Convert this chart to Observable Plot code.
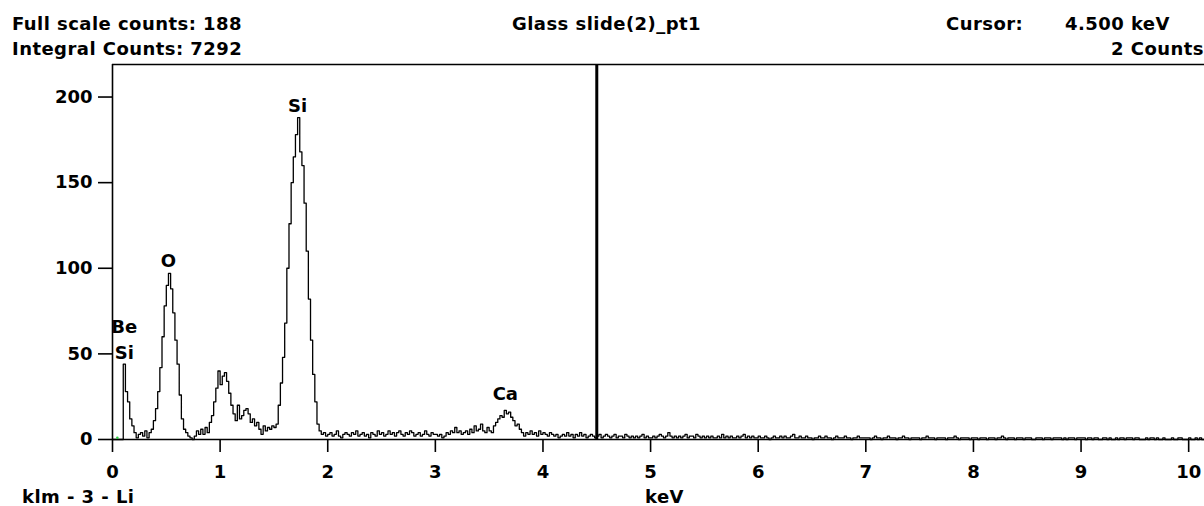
<!DOCTYPE html>
<html>
<head>
<meta charset="utf-8">
<script src="https://cdn.jsdelivr.net/npm/d3@7"></script>
<script src="https://cdn.jsdelivr.net/npm/@observablehq/plot@0.6"></script>
<style>
  html, body { margin: 0; padding: 0; background: #fff; overflow: hidden; width: 1204px; height: 506px; }
  #wrap { position: relative; width: 1204px; height: 506px; overflow: hidden; }
  .t { position: absolute; font-family: "DejaVu Sans", sans-serif; font-weight: bold; font-size: 18px; line-height: 18px; letter-spacing: 0.45px; color: #000; white-space: nowrap; }
  #chart { position: absolute; left: 0; top: 0; width: 1220px; }
  #chart svg { max-width: none !important; }
</style>
</head>
<body>
<div id="wrap">
  <div id="chart"></div>
  <div class="t" id="fullScale" style="left:12px; top:15px;"></div>
  <div class="t" id="integral" style="left:12px; top:40px;"></div>
  <div class="t" id="title" style="left:512px; top:15px;"></div>
  <div class="t" id="cursorLbl" style="left:946px; top:15px;"></div>
  <div class="t" id="cursorVal" style="left:1065px; top:15px;"></div>
  <div class="t" id="cursorCounts" style="right:0px; top:40px;"></div>
  <div class="t" id="detector" style="left:22px; top:488px;"></div>
  <div class="t" id="xUnit" style="left:645px; top:488px;"></div>
</div>
<script>
// ---- Header / footer text ----
const fullScaleCounts = 188;
const integralCounts = 7292;
const titleText = "Glass slide(2)_pt1";
const cursorKeV = 4.5;
const cursorCounts = 2;
const detectorText = "klm - 3 - Li";
const xUnitText = "keV";

// ---- Axes ----
const xTicks = [0, 1, 2, 3, 4, 5, 6, 7, 8, 9, 10];
const yTicks = [0, 50, 100, 150, 200];
const xMax = 10.24;   // keV, full spectrum width
const yMax = 219;     // counts, top of frame
const channelWidth = 0.02; // keV per channel

// ---- Spectrum counts, one value per 0.02 keV channel ----
const counts0to1 = [0,0,0,0,0,44,28,22,12,8, 4,1,3,4,2,5,1,4,6,11, 18,28,42,60,78,90,97,88,74,58, 44,26,12,6,4,2,1,0,2,5, 3,6,3,7,4,10,14,22,30,40];
const counts1to2 = [32,37,39,34,27,20,15,11,20,12, 14,17,18,15,10,12,8,10,6,3, 8,5,7,6,8,7,9,20,33,48, 68,100,126,150,165,178,188,168,160,138, 110,82,58,38,22,9,5,3,4,2];
const counts2to3 = [3,4,2,3,5,2,1,3,4,3, 2,4,3,5,2,3,4,2,3,1, 4,3,2,5,3,4,2,3,5,3, 4,2,4,5,3,2,4,3,5,4, 2,3,4,2,3,5,3,2,4,3];
const counts3to4 = [3,2,3,1,2,4,3,5,4,7, 4,5,3,4,5,3,6,4,8,5, 6,9,5,4,7,5,4,8,10,12, 14,13,17,15,16,13,11,8,9,6, 4,2,4,3,5,3,4,2,5,3];
const counts4to5 = [4,3,2,4,3,2,3,1,2,3, 2,4,2,3,1,3,2,4,2,3, 1,2,3,2,1,2,3,1,2,3, 2,1,2,3,1,2,2,1,3,2, 1,2,1,2,1,2,3,1,2,1];
const counts5to6 = [1,2,1,2,3,2,1,2,4,2, 1,2,1,2,1,2,3,1,2,2, 1,3,2,1,2,1,2,1,2,1, 1,2,1,3,1,2,1,2,1,1, 2,1,2,3,1,2,1,2,1,1];
const counts6to7 = [2,1,1,2,1,0,1,2,1,1, 2,1,2,1,1,2,3,1,1,2, 1,1,2,1,1,0,1,1,2,1, 1,2,1,1,0,1,2,1,1,1, 2,1,1,0,1,1,2,1,1,1];
const counts7to8 = [1,1,0,1,2,1,1,0,1,1, 2,1,1,1,0,1,1,2,1,1, 0,1,1,1,1,0,1,1,2,1, 1,1,0,1,1,1,1,0,1,1, 1,2,1,0,1,1,1,1,0,1];
const counts8to9 = [1,1,0,1,1,1,0,1,1,1, 0,1,1,2,1,0,1,1,1,0, 1,1,1,0,1,1,1,0,0,1, 1,1,0,1,1,1,0,1,1,1, 1,0,1,0,1,1,1,0,1,1];
const counts9to10p24 = [1,1,0,1,1,0,1,1,0,0, 1,1,0,1,0,0,1,0,1,1, 0,1,1,1,0,1,1,0,0,0, 1,0,1,1,0,1,0,0,1,0, 0,0,1,0,0,1,1,0,0,0, 1,0,0,1,0,1,0,0,0,1, 0,1];

// ---- Peak labels ----
const peakNames   = ["Be", "Si", "O", "Si", "Ca"];
const peakEnergy  = [0.11, 0.11, 0.52, 1.72, 3.65];
const peakLabelAt = [62, 47, 101, 191, 23];

const allCounts = [].concat(counts0to1, counts1to2, counts2to3, counts3to4, counts4to5,
  counts5to6, counts6to7, counts7to8, counts8to9, counts9to10p24);
const spectrum = allCounts.map((c, i) => ({keV: i * channelWidth, counts: c}));
const labels = peakNames.map((n, i) => ({name: n, keV: peakEnergy[i], y: peakLabelAt[i]}));

document.getElementById("fullScale").textContent = "Full scale counts: " + fullScaleCounts;
document.getElementById("integral").textContent = "Integral Counts: " + integralCounts;
document.getElementById("title").textContent = titleText;
document.getElementById("cursorLbl").textContent = "Cursor:";
document.getElementById("cursorVal").textContent = cursorKeV.toFixed(3) + " keV";
document.getElementById("cursorCounts").textContent = cursorCounts + " Counts";
document.getElementById("detector").textContent = detectorText;
document.getElementById("xUnit").textContent = xUnitText;

const chart = Plot.plot({
  width: 1220,
  height: 506,
  marginTop: 64,
  marginBottom: 67,
  marginLeft: 112,
  marginRight: 6,
  style: {fontFamily: "DejaVu Sans, sans-serif", fontSize: "18px", fontWeight: "bold", color: "#000", background: "transparent", maxWidth: "none"},
  x: {domain: [0, xMax], ticks: xTicks, tickSize: 13, tickPadding: 13, tickFormat: d => String(d), label: null},
  y: {domain: [0, yMax], ticks: yTicks, tickSize: 14, tickPadding: 6, tickFormat: d => String(d), label: null},
  marks: [
    Plot.ruleY([0], {stroke: "#000", strokeWidth: 1.6}),
    Plot.ruleY([yMax], {stroke: "#000", strokeWidth: 1.6}),
    Plot.ruleX([0], {stroke: "#000", strokeWidth: 1.6}),
    Plot.line(spectrum, {x: "keV", y: "counts", curve: "step-after", stroke: "#000", strokeWidth: 1.3}),
    Plot.ruleX([cursorKeV], {stroke: "#000", strokeWidth: 3}),
    Plot.dot([{keV: 0.045, counts: 1}], {x: "keV", y: "counts", r: 1.3, fill: "#2ecc40", stroke: "none"}),
    Plot.text(labels, {x: "keV", y: "y", text: "name", lineAnchor: "bottom", textAnchor: "middle", fontSize: 18, fontWeight: "bold", fill: "#000"})
  ]
});
chart.style.maxWidth = "none";
chart.querySelectorAll("[aria-label$='tick'] path, [aria-label='x-axis'] path, [aria-label='y-axis'] path").forEach(p => p.setAttribute("stroke-width", "1.6"));
document.getElementById("chart").appendChild(chart);
</script>
</body>
</html>
